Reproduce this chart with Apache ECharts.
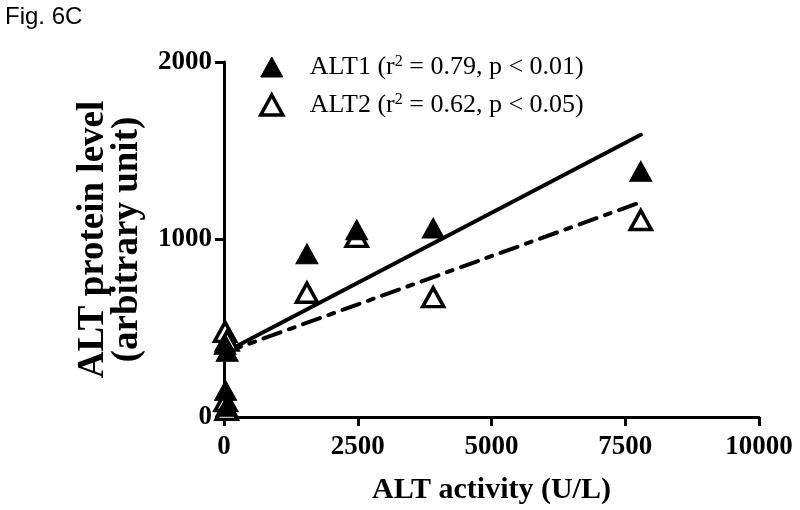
<!DOCTYPE html>
<html>
<head>
<meta charset="utf-8">
<script src="https://cdn.jsdelivr.net/npm/echarts@6/dist/echarts.min.js"></script>
<style>
html,body{margin:0;padding:0;background:#fff;}
#c{width:800px;height:510px;}
</style>
</head>
<body>
<div id="c"></div>
<script>
// Data
var alt1X = [20, 60, 30, 50, 1550, 2480, 3910, 7790];
var alt1Y = [410, 370, 150, 60, 920, 1055, 1065, 1385];
var alt2X = [20, 60, 30, 50, 1550, 2480, 3910, 7790];
var alt2Y = [480, 430, 90, 40, 700, 1015, 675, 1110];
var fit1X = [0, 7790];
var fit1Y = [362, 1590];
var fit2X = [0, 7790];
var fit2Y = [362, 1210];
var xTicks = [0, 2500, 5000, 7500, 10000];
var yTicks = [0, 1000, 2000];
var legendText = {
  ALT1: ['ALT1 (r', '2', ' = 0.79, p < 0.01)'],
  ALT2: ['ALT2 (r', '2', ' = 0.62, p < 0.05)']
};

function pairs(xs, ys) { return xs.map(function (x, i) { return [x, ys[i]]; }); }

var serif = '"Liberation Serif", "Times New Roman", serif';
var chart = echarts.init(document.getElementById('c'));
chart.setOption({
  animation: false,
  backgroundColor: '#fff',
  title: {
    text: 'Fig. 6C', left: 5, top: 5, padding: 0,
    textStyle: { fontFamily: '"Liberation Sans", Arial, sans-serif', fontWeight: 'normal', fontSize: 24, color: '#000' }
  },
  grid: { left: 224, right: 41, top: 62, bottom: 92 },
  legend: {
    data: [
      { name: 'ALT1', itemStyle: { color: '#000', borderColor: '#000', borderWidth: 1 } },
      { name: 'ALT2', itemStyle: { color: '#fff', borderColor: '#000', borderWidth: 3.5 } }
    ],
    orient: 'vertical',
    left: 259, top: 54, padding: 0,
    itemWidth: 22, itemHeight: 20, itemGap: 12,
    formatter: function (n) {
      var t = legendText[n];
      return '{p|' + t[0] + '}{s|' + t[1] + '}{a|' + t[2] + '}';
    },
    textStyle: {
      fontFamily: serif, fontSize: 26, color: '#000',
      rich: {
        p: { fontFamily: serif, fontSize: 26, color: '#000', padding: [0, 0, 0, 22] },
        a: { fontFamily: serif, fontSize: 26, color: '#000' },
        s: { fontFamily: serif, fontSize: 16, color: '#000', verticalAlign: 'top', padding: [0, 0, 10, 0] }
      }
    }
  },
  xAxis: {
    type: 'value', min: 0, max: 10000, interval: 2500,
    name: 'ALT activity (U/L)', nameLocation: 'middle', nameGap: 58,
    nameTextStyle: { fontFamily: serif, fontWeight: 'bold', fontSize: 30, color: '#000' },
    axisLine: { lineStyle: { color: '#000', width: 3 } },
    axisTick: { length: 9, lineStyle: { color: '#000', width: 3 } },
    axisLabel: { margin: 17, fontFamily: serif, fontWeight: 'bold', fontSize: 27, color: '#000',
      formatter: function (v) { return xTicks.indexOf(v) >= 0 ? String(v) : ''; } },
    splitLine: { show: false }
  },
  yAxis: {
    type: 'value', min: 0, max: 2000, interval: 1000,
    name: 'ALT protein level\n(arbitrary unit)', nameLocation: 'middle', nameGap: 80, nameRotate: 90,
    nameTextStyle: { fontFamily: serif, fontWeight: 'bold', fontSize: 37, lineHeight: 34, color: '#000' },
    axisLine: { show: true, lineStyle: { color: '#000', width: 3 } },
    axisTick: { show: true, length: 9, lineStyle: { color: '#000', width: 3 } },
    axisLabel: { margin: 12, fontFamily: serif, fontWeight: 'bold', fontSize: 27, color: '#000',
      formatter: function (v) { return yTicks.indexOf(v) >= 0 ? String(v) : ''; } },
    splitLine: { show: false }
  },
  series: [
    {
      name: 'fit1', type: 'line', data: pairs(fit1X, fit1Y), showSymbol: false, symbol: 'none', z: 1,
      lineStyle: { color: '#000', width: 4, cap: 'round' }
    },
    {
      name: 'fit2', type: 'line', data: pairs(fit2X, fit2Y), showSymbol: false, symbol: 'none', z: 1,
      lineStyle: { color: '#000', width: 4, type: [18, 9, 6, 9], cap: 'round' }
    },
    {
      name: 'ALT1', type: 'scatter', data: pairs(alt1X, alt1Y), symbol: 'triangle', symbolSize: [22, 20], z: 3,
      itemStyle: { color: '#000', borderColor: '#000', borderWidth: 1, opacity: 1 }
    },
    {
      name: 'ALT2', type: 'scatter', data: pairs(alt2X, alt2Y), symbol: 'triangle', symbolSize: [21, 19], z: 2,
      itemStyle: { color: '#fff', borderColor: '#000', borderWidth: 3.5, opacity: 1 }
    }
  ]
});
</script>
</body>
</html>
